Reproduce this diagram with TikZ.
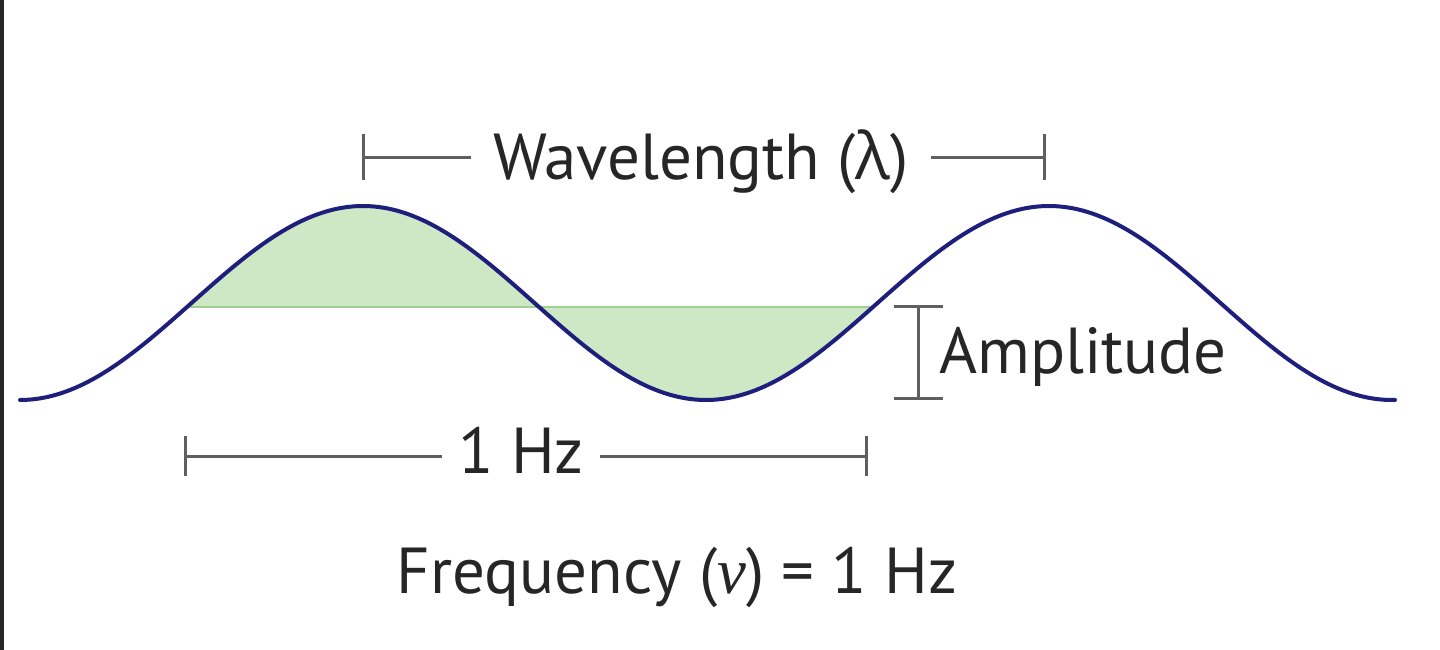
\documentclass[tikz,border=0pt]{standalone}
\usepackage{fontspec}
\setmainfont{PT Sans}
\newfontfamily\gk{Open Sans}
\newfontfamily\sgk{Liberation Serif}
\usetikzlibrary{arrows.meta}
\definecolor{wave}{RGB}{30,30,125}
\definecolor{fillg}{RGB}{206,231,196}
\definecolor{lineg}{RGB}{160,208,145}
\definecolor{dimc}{RGB}{95,95,95}
\definecolor{txt}{RGB}{38,38,38}
\tikzset{
  dimline/.style={draw=dimc, line width=3pt},
  lbl/.style={text=txt, font=\fontsize{65}{72}\selectfont, inner sep=0pt},
  gaplbl/.style={lbl, inner xsep=22pt},
}
\begin{document}
\begin{tikzpicture}[x=1pt,y=-1pt]
\useasboundingbox (0,0) rectangle (1440,650);
\fill[white] (0,0) rectangle (1440,650);
\fill[black!85] (0,0) rectangle (4,650);
% green lobes
\fill[fillg] plot[domain=187:539, samples=100] (\x,{303+97*cos(0.524781*(\x-20))}) -- cycle;
\fill[fillg] plot[domain=539:873, samples=100] (\x,{303+97*cos(0.524781*(\x-20))}) -- cycle;
\coordinate (gL) at (188,307);
\coordinate (gR) at (872,307);
\draw[lineg, line width=2.5pt] (gL) -- (gR);
% wave
\draw[wave, line width=4pt, line cap=round] plot[domain=20:1395, samples=300] (\x,{303+97*cos(0.524781*(\x-20))});
% wavelength
\node[gaplbl, anchor=base] (wl) at (701,179) {Wavelength ({\gk λ})};
\coordinate (wlL) at (362,157);
\coordinate (wlR) at (1046,157);
\draw[dimline, {Bar[width=46pt]}-] (wlL) -- (wlL -| wl.west);
\draw[dimline, -{Bar[width=46pt]}] (wlR -| wl.east) -- (wlR);
% amplitude
\coordinate (aT) at (918,305);
\coordinate (aB) at (918,400);
\draw[dimline, {Bar[width=49pt]}-{Bar[width=49pt]}] (aT) -- (aB);
\node[lbl, anchor=base west] (amp) at (939,373) {Amplitude};
% 1 Hz
\node[gaplbl, inner xsep=16pt, anchor=base] (hz) at (521,473) {1 Hz};
\coordinate (hzL) at (184,456);
\coordinate (hzR) at (868,456);
\draw[dimline, {Bar[width=40pt]}-] (hzL) -- (hzL -| hz.west);
\draw[dimline, -{Bar[width=40pt]}] (hzR -| hz.east) -- (hzR);
% frequency
\node[lbl, anchor=base] (freq) at (677,593) {Frequency ({\sgk\itshape ν}) = 1 Hz};
\end{tikzpicture}
\end{document}
